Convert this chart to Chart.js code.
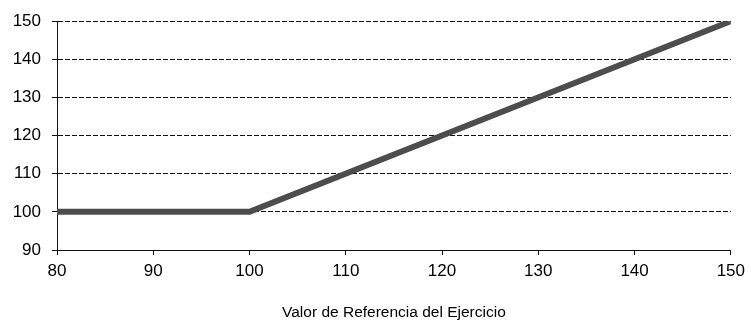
<!DOCTYPE html>
<html>
<head>
<meta charset="utf-8">
<script src="https://cdn.jsdelivr.net/npm/chart.js@4"></script>
<style>
  html, body { margin: 0; padding: 0; background: #fff; }
  #wrap { width: 751px; height: 322px; }
</style>
</head>
<body>
<div id="wrap"><canvas id="chart" width="751" height="322"></canvas></div>
<script>
// ---- data ----
const refValues = [80, 100, 150];      // Valor de Referencia del Ejercicio
const resultValues = [100, 100, 150];
const xTicks = [80, 90, 100, 110, 120, 130, 140, 150];
const yTicks = [90, 100, 110, 120, 130, 140, 150];

const points = refValues.map((x, i) => ({ x, y: resultValues[i] }));

Chart.defaults.font.family = "'Liberation Sans', Arial, sans-serif";
Chart.defaults.color = '#000';

new Chart(document.getElementById('chart'), {
  type: 'line',
  data: {
    datasets: [{
      data: points,
      borderColor: '#4d4d4d',
      borderWidth: 6,
      pointRadius: 0,
      tension: 0,
      fill: false,
    }]
  },
  options: {
    responsive: false,
    animation: false,
    layout: { padding: { top: 19, right: 14, left: 0, bottom: 0 } },
    plugins: {
      legend: { display: false },
      tooltip: { enabled: false },
    },
    scales: {
      x: {
        type: 'linear',
        min: xTicks[0],
        max: xTicks[xTicks.length - 1],
        afterBuildTicks: s => { s.ticks = xTicks.map(v => ({ value: v })); },
        afterFit: s => { s.height = 72; },
        grid: { drawOnChartArea: false, drawTicks: true, tickLength: 5, color: '#111' },
        border: { display: true, color: '#111', width: 1 },
        ticks: { font: { size: 17 }, padding: 6, maxRotation: 0 },
        title: {
          display: true,
          text: 'Valor de Referencia del Ejercicio',
          font: { size: 15.5 },
          padding: { top: 0, bottom: 0 },
        },
      },
      y: {
        min: yTicks[0],
        max: yTicks[yTicks.length - 1],
        afterBuildTicks: s => { s.ticks = yTicks.map(v => ({ value: v })); },
        afterFit: s => { s.width = 57; },
        grid: { color: '#111', lineWidth: 1, tickLength: 5 },
        border: { display: true, color: '#111', width: 1, dash: [5, 2] },
        ticks: { font: { size: 17 }, padding: 11 },
      }
    }
  }
});
</script>
</body>
</html>
